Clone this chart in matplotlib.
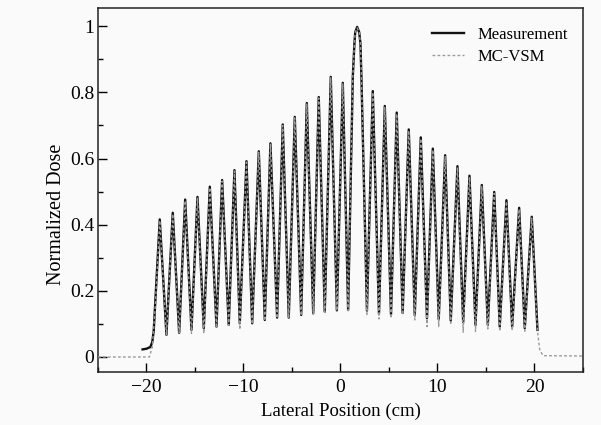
import numpy as np
import matplotlib.pyplot as plt
from matplotlib.ticker import MultipleLocator, FormatStrFormatter

plt.rcParams['font.family'] = ['Liberation Serif', 'DejaVu Serif']

# leaf peaks (cm) and heights
peak_x = [-18.63, -17.29, -16.01, -14.74, -13.47, -12.20, -10.93, -9.69, -8.42, -7.22,
          -5.95, -4.71, -3.47, -2.24, -1.00, 0.24, 1.72, 3.33, 4.57, 5.80,
          7.04, 8.28, 9.52, 10.79, 12.06, 13.30, 14.57, 15.85, 17.11, 18.42, 19.72]
meas_peak = [0.416, 0.436, 0.476, 0.484, 0.515, 0.535, 0.565, 0.592, 0.622, 0.646,
             0.703, 0.726, 0.768, 0.786, 0.847, 0.829, 0.998, 0.804, 0.759, 0.739,
             0.688, 0.664, 0.630, 0.610, 0.577, 0.548, 0.520, 0.499, 0.474, 0.451, 0.424]
mc_peak = [0.412, 0.432, 0.472, 0.480, 0.512, 0.532, 0.562, 0.589, 0.619, 0.643,
           0.700, 0.723, 0.765, 0.783, 0.844, 0.826, 0.995, 0.800, 0.755, 0.735,
           0.684, 0.660, 0.626, 0.606, 0.573, 0.544, 0.516, 0.495, 0.470, 0.447, 0.420]

# valleys between neighbouring peaks
valley_x = [-17.94, -16.63, -15.36, -14.09, -12.78, -11.52, -10.38, -9.10, -7.80, -6.53,
            -5.33, -4.05, -2.81, -1.62, -0.37, 0.79, 2.73, 3.97, 5.21, 6.41,
            7.66, 8.92, 10.13, 11.37, 12.65, 13.92, 15.19, 16.42, 17.70, 19.00]
meas_valley = [0.067, 0.073, 0.082, 0.087, 0.092, 0.097, 0.102, 0.102, 0.112, 0.119,
               0.119, 0.127, 0.132, 0.137, 0.141, 0.142, 0.140, 0.130, 0.128, 0.133,
               0.126, 0.117, 0.114, 0.110, 0.105, 0.097, 0.097, 0.092, 0.092, 0.087]
mc_valley = [0.067, 0.073, 0.071, 0.071, 0.088, 0.095, 0.083, 0.100, 0.110, 0.117,
             0.117, 0.125, 0.130, 0.135, 0.140, 0.140, 0.129, 0.115, 0.117, 0.128,
             0.112, 0.092, 0.092, 0.102, 0.075, 0.077, 0.085, 0.078, 0.080, 0.078]

# shoulders of the broad central peak
center_x = [1.27, 1.44, 1.52, 1.93, 2.06, 2.16]
center_y = [0.847, 0.948, 0.982, 0.982, 0.948, 0.847]

# field edges
meas_left_x = [-20.40, -20.00, -19.60, -19.40, -19.25]
meas_left_y = [0.023, 0.025, 0.030, 0.045, 0.080]
meas_right_x = [20.31]
meas_right_y = [0.082]

mc_left_x = [-25.0, -19.70, -19.40, -19.10]
mc_left_y = [0.0, 0.0, 0.030, 0.150]
mc_right_x = [20.31, 20.55, 20.90, 25.0]
mc_right_y = [0.077, 0.020, 0.004, 0.003]


def profile(lx, ly, py, vy, rx, ry):
    x = np.array(lx + peak_x + valley_x + center_x + rx)
    y = np.array(ly + py + vy + center_y + ry)
    order = np.argsort(x)
    return x[order], y[order]


mx, my = profile(meas_left_x, meas_left_y, meas_peak, meas_valley, meas_right_x, meas_right_y)
sx, sy = profile(mc_left_x, mc_left_y, mc_peak, mc_valley, mc_right_x, mc_right_y)

bg = '#fafafa'
fig = plt.figure(figsize=(6.01, 4.25), dpi=100, facecolor=bg)
ax = fig.add_axes([0.163, 0.125, 0.807, 0.856], facecolor=bg)

ax.plot(mx, my, color='#111111', lw=1.7, solid_joinstyle='round', label='Measurement', zorder=2)
ax.plot(sx, sy, color='#9a9a9a', lw=1.0, dashes=(2, 1.6), label='MC-VSM', zorder=3)

ax.set_xlim(-25, 25)
ax.set_ylim(-0.045, 1.055)
ax.xaxis.set_major_locator(MultipleLocator(10))
ax.xaxis.set_minor_locator(MultipleLocator(5))
ax.yaxis.set_major_locator(MultipleLocator(0.2))
ax.yaxis.set_minor_locator(MultipleLocator(0.1))
ax.yaxis.set_major_formatter(FormatStrFormatter('%g'))
ax.tick_params(which='both', direction='in', labelsize=14, width=1.0)
ax.tick_params(which='major', length=6.5)
ax.tick_params(axis='y', pad=2.5)
ax.tick_params(axis='x', pad=5)
ax.tick_params(which='minor', length=3.5)
for s in ax.spines.values():
    s.set_linewidth(1.1)
    s.set_color('#222222')

ax.set_xlabel('Lateral Position (cm)', fontsize=13.5, labelpad=5)
ax.set_ylabel('Normalized Dose', fontsize=14.5)
ax.yaxis.set_label_coords(-0.066, 0.434)

ax.legend(loc='upper right', bbox_to_anchor=(1.008, 1.0), frameon=False, fontsize=12,
          handlelength=1.9, handletextpad=0.8, labelspacing=0.35, borderaxespad=0.75)

fig.savefig('out.png', dpi=100, facecolor=bg)
